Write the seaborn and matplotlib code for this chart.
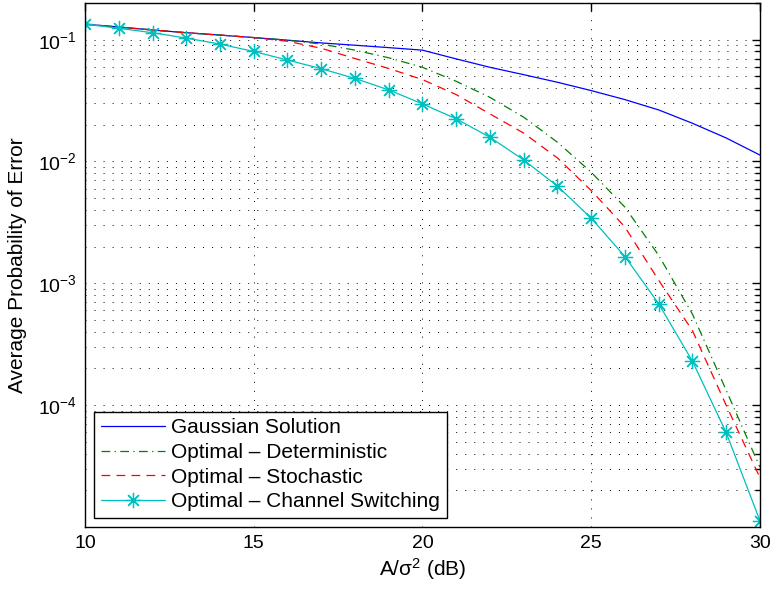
import numpy as np
import pandas as pd
import matplotlib
matplotlib.use("Agg")
import matplotlib.pyplot as plt
import seaborn as sns
from matplotlib.ticker import LogLocator, NullFormatter

# valores (A/sigma^2 en dB)
snr_db = [10, 11, 12, 13, 14, 15, 16, 17, 18, 19, 20,
          21, 22, 23, 24, 25, 26, 27, 28, 29, 30]

gaussian = [0.134, 0.127, 0.120, 0.114, 0.109, 0.104, 0.099, 0.094, 0.090, 0.086, 0.082,
            0.0695, 0.0593, 0.0516, 0.0447, 0.0382, 0.0322, 0.0265, 0.0206, 0.0156, 0.0113]
deterministic = [0.134, 0.127, 0.120, 0.114, 0.109, 0.104, 0.099, 0.092, 0.082, 0.071, 0.0593,
                 0.0455, 0.0336, 0.0231, 0.0144, 0.00817, 0.00422, 0.0017, 5.6e-4, 1.33e-4, 3.1e-5]
stochastic = [0.134, 0.127, 0.120, 0.114, 0.109, 0.104, 0.097, 0.085, 0.070, 0.058, 0.047,
              0.0354, 0.0246, 0.0171, 0.0107, 0.00578, 0.0029, 0.00106, 4.1e-4, 1.0e-4, 2.55e-5]
switching = [0.134, 0.124, 0.114, 0.103, 0.092, 0.080, 0.068, 0.0578, 0.048, 0.0387, 0.0297,
             0.0224, 0.0158, 0.0103, 0.00628, 0.00343, 0.00166, 6.8e-4, 2.3e-4, 5.97e-5, 1.13e-5]

labels = ["Gaussian Solution", "Optimal \u2013 Deterministic",
          "Optimal \u2013 Stochastic", "Optimal \u2013 Channel Switching"]

sns.set_style("white")
plt.rcParams["font.family"] = ["Liberation Sans", "DejaVu Sans"]
plt.rcParams["mathtext.fontset"] = "custom"
plt.rcParams["mathtext.rm"] = "Liberation Sans"
plt.rcParams["mathtext.it"] = "Liberation Sans:italic"
for key in ["text.color", "axes.labelcolor", "xtick.color", "ytick.color"]:
    plt.rcParams[key] = "black"

fig = plt.figure(figsize=(7.73, 5.95), dpi=100)
ax = fig.add_axes([0.110, 0.1143, 0.873, 0.8807])

series = [
    (gaussian, "#0000ff", "-", None),
    (deterministic, "#008000", (0, (7, 3.5, 1, 3.5)), None),
    (stochastic, "#ff0000", (0, (7, 5)), None),
    (switching, "#00bfbf", "-", (8, 2, 0)),
]
for (vals, col, ls, mk), lab in zip(series, labels):
    sns.lineplot(x=snr_db, y=vals, ax=ax, color=col, lw=0.9, label=lab)
    line = ax.lines[-1]
    line.set_linestyle(ls)
    if mk is not None:
        line.set_marker(mk)
        line.set_markersize(11)
        line.set_markeredgewidth(0.9)
        line.set_markeredgecolor(col)

ax.set_yscale("log")
ax.set_xlim(10, 30)
ax.set_ylim(1e-5, 0.2)
ax.set_xticks([10, 15, 20, 25, 30])
ax.yaxis.set_major_locator(LogLocator(base=10, subs=(1.0,), numticks=10))
ax.yaxis.set_minor_locator(LogLocator(base=10, subs=np.arange(2, 10), numticks=10))
ax.yaxis.set_minor_formatter(NullFormatter())
ax.set_yticks([1e-4, 1e-3, 1e-2, 1e-1])

dots = (0, (1, 8.3))
ax.grid(True, which="major", axis="both", color="black", linestyle=dots, lw=0.7)
ax.grid(True, which="minor", axis="y", color="black", linestyle=dots, lw=0.7)

ax.tick_params(which="both", direction="in", top=True, right=True, labelsize=14, width=1.0)
ax.tick_params(which="major", length=6, pad=6)
ax.tick_params(which="minor", length=3.5)
for s in ax.spines.values():
    s.set_linewidth(1.0)
    s.set_color("black")

ax.set_xlabel("A/\u03c3$^2$ (dB)", fontsize=15, labelpad=3)
ax.set_ylabel("Average Probability of Error", fontsize=15, labelpad=8)

handles, _ = ax.get_legend_handles_labels()
leg = ax.legend(handles, labels, loc="lower left", fontsize=15, frameon=True, fancybox=False,
                edgecolor="black", framealpha=1, handlelength=3.1, handletextpad=0.3,
                borderpad=0.3, labelspacing=0.27, borderaxespad=0.45)
leg.get_frame().set_linewidth(1.0)

fig.savefig("out.png", dpi=100)
